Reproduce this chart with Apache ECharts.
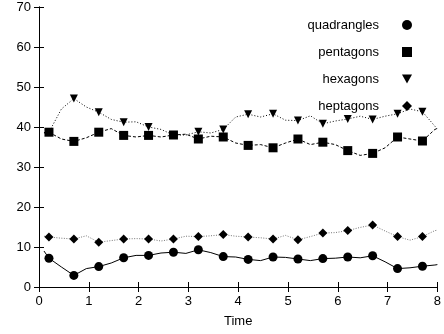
<!DOCTYPE html>
<html><head><meta charset="utf-8">
<script src="https://cdn.jsdelivr.net/npm/echarts@6/dist/echarts.min.js"></script>
<style>html,body{margin:0;padding:0;background:#fff}#c{width:444px;height:334px}</style>
</head><body><div id="c"></div>
<script>
const seriesNames = ['quadrangles', 'pentagons', 'hexagons', 'heptagons'];
const xTicks = [0, 1, 2, 3, 4, 5, 6, 7, 8];
const yTicks = [0, 10, 20, 30, 40, 50, 60, 70];

const markerX = [0.2, 0.7, 1.2, 1.7, 2.2, 2.7, 3.2, 3.7, 4.2, 4.7, 5.2, 5.7, 6.2, 6.7, 7.2, 7.7];
const quadMarkers = [7.2, 2.9, 5.1, 7.3, 7.9, 8.7, 9.3, 7.6, 6.9, 7.5, 7.0, 7.1, 7.5, 7.8, 4.6, 5.2];
const pentMarkers = [38.7, 36.4, 38.7, 37.9, 37.9, 38.0, 37.0, 37.5, 35.4, 34.8, 37.0, 36.2, 34.1, 33.4, 37.5, 36.5];
const hexMarkers  = [38.7, 47.1, 43.7, 41.2, 40.0, 38.0, 38.8, 39.4, 43.2, 43.3, 41.6, 40.8, 42.0, 41.9, 43.3, 43.8];
const heptMarkers = [12.5, 12.0, 11.2, 12.0, 12.0, 12.0, 12.6, 13.1, 12.5, 12.0, 11.8, 13.5, 14.1, 15.5, 12.6, 12.6];

const lineX = [0.1, 0.2, 0.45, 0.7, 0.95, 1.2, 1.45, 1.7, 1.95, 2.2, 2.45, 2.7, 2.95, 3.2, 3.45, 3.7, 3.95,
               4.2, 4.45, 4.7, 4.95, 5.2, 5.45, 5.7, 5.95, 6.2, 6.45, 6.7, 6.95, 7.2, 7.45, 7.7, 7.95, 8.0];
const quadLine = [9.0, 7.2, 5.0, 2.9, 4.6, 5.1, 6.0, 7.3, 7.9, 7.9, 8.5, 8.7, 8.4, 9.3, 8.6, 7.6, 7.5,
                  6.9, 6.6, 7.5, 7.4, 7.0, 6.6, 7.1, 7.2, 7.5, 7.3, 7.8, 6.3, 4.6, 4.8, 5.2, 5.5, 5.6];
const pentLine = [38.6, 38.7, 37.0, 36.4, 37.3, 38.7, 39.6, 37.9, 37.5, 37.9, 37.5, 38.0, 38.2, 37.0, 37.7, 37.5, 36.0,
                  35.4, 35.6, 34.8, 36.0, 37.0, 35.6, 36.2, 35.6, 34.1, 32.9, 33.4, 34.8, 37.5, 37.0, 36.5, 39.4, 39.6];
const hexLine  = [38.5, 38.7, 44.5, 47.1, 45.0, 43.7, 41.9, 41.2, 41.3, 40.0, 39.4, 38.0, 38.0, 38.8, 38.5, 39.4, 42.5,
                  43.2, 42.5, 43.3, 41.7, 41.6, 42.8, 40.8, 41.5, 42.0, 42.7, 41.9, 42.7, 43.3, 44.5, 43.8, 40.2, 39.4];
const heptLine = [12.7, 12.5, 12.2, 12.0, 12.8, 11.2, 11.6, 12.0, 12.1, 12.0, 11.5, 12.0, 12.7, 12.6, 12.8, 13.1, 12.7,
                  12.5, 12.3, 12.0, 12.9, 11.8, 12.6, 13.5, 13.6, 14.1, 14.9, 15.5, 14.0, 12.6, 11.7, 12.6, 14.1, 14.2];

const FONT = 'Liberation Sans, Arial, Helvetica, sans-serif';
const zip = (xs, ys) => xs.map((x, i) => [x, ys[i]]);

const lineDefs = [
  { data: quadLine, style: { color: '#000', width: 1, type: 'solid' } },
  { data: pentLine, style: { color: '#000', width: 1, type: [3, 2] } },
  { data: hexLine,  style: { color: '#000', width: 1, type: [1, 2] } },
  { data: heptLine, style: { color: '#777', width: 1, type: [1, 1.5] } }
];
const markerDefs = [
  { data: quadMarkers, symbol: 'circle', size: 9, rotate: 0, z: 3, icon: 'circle' },
  { data: pentMarkers, symbol: 'rect', size: 9, rotate: 0, z: 5, icon: 'rect' },
  { data: hexMarkers,  symbol: 'triangle', size: 8, rotate: 180, z: 4, icon: 'path://M0,0L10,0L5,9Z' },
  { data: heptMarkers, symbol: 'diamond', size: 9, rotate: 0, z: 3, icon: 'diamond' }
];

const series = [];
lineDefs.forEach((d, i) => {
  series.push({
    name: seriesNames[i] + '_line', type: 'line', data: zip(lineX, d.data),
    showSymbol: false, symbol: 'none', lineStyle: d.style, silent: true, z: 2, animation: false
  });
});
markerDefs.forEach((d, i) => {
  series.push({
    name: seriesNames[i], type: 'scatter', data: zip(markerX, d.data),
    symbol: d.symbol, symbolSize: d.size, symbolRotate: d.rotate, symbolKeepAspect: true,
    itemStyle: { color: '#000', opacity: 1 }, z: d.z, animation: false
  });
});

const axisCommon = {
  axisLine: { show: true, lineStyle: { color: '#000', width: 1 } },
  axisTick: { show: true, inside: true, length: 5, lineStyle: { color: '#000', width: 1 } },
  splitLine: { show: false }
};

const chart = echarts.init(document.getElementById('c'), null, { renderer: 'canvas' });
chart.setOption({
  backgroundColor: '#fff',
  animation: false,
  textStyle: { fontFamily: FONT },
  grid: { left: 39, right: 5, top: 7, bottom: 47, containLabel: false },
  legend: {
    data: seriesNames.map((n, i) => ({ name: n, icon: markerDefs[i].icon })),
    orient: 'vertical', align: 'right',
    right: 32, top: 18, padding: 0,
    itemWidth: 10, itemHeight: 10, itemGap: 13,
    symbolRotate: 0,
    textStyle: { fontSize: 13, color: '#000', fontFamily: FONT, lineHeight: 14, padding: [0, 18, 0, 0] },
    selectedMode: false
  },
  xAxis: [
    Object.assign({
      type: 'value', min: xTicks[0], max: xTicks[xTicks.length - 1], interval: 1, position: 'bottom',
      name: 'Time', nameLocation: 'middle', nameGap: 28,
      nameTextStyle: { fontSize: 13, color: '#000', fontFamily: FONT },
      axisLabel: { fontSize: 13, color: '#000', margin: 8, fontFamily: FONT }
    }, axisCommon),
    Object.assign({
      type: 'value', min: xTicks[0], max: xTicks[xTicks.length - 1], interval: 1, position: 'top',
      axisLabel: { show: false }
    }, axisCommon)
  ],
  yAxis: [
    Object.assign({
      type: 'value', min: yTicks[0], max: yTicks[yTicks.length - 1], interval: 10, position: 'left',
      axisLabel: { fontSize: 13, color: '#000', margin: 8, fontFamily: FONT }
    }, axisCommon),
    Object.assign({
      type: 'value', min: yTicks[0], max: yTicks[yTicks.length - 1], interval: 10, position: 'right',
      axisLabel: { show: false }
    }, axisCommon)
  ],
  series: series
});
</script>
</body></html>
